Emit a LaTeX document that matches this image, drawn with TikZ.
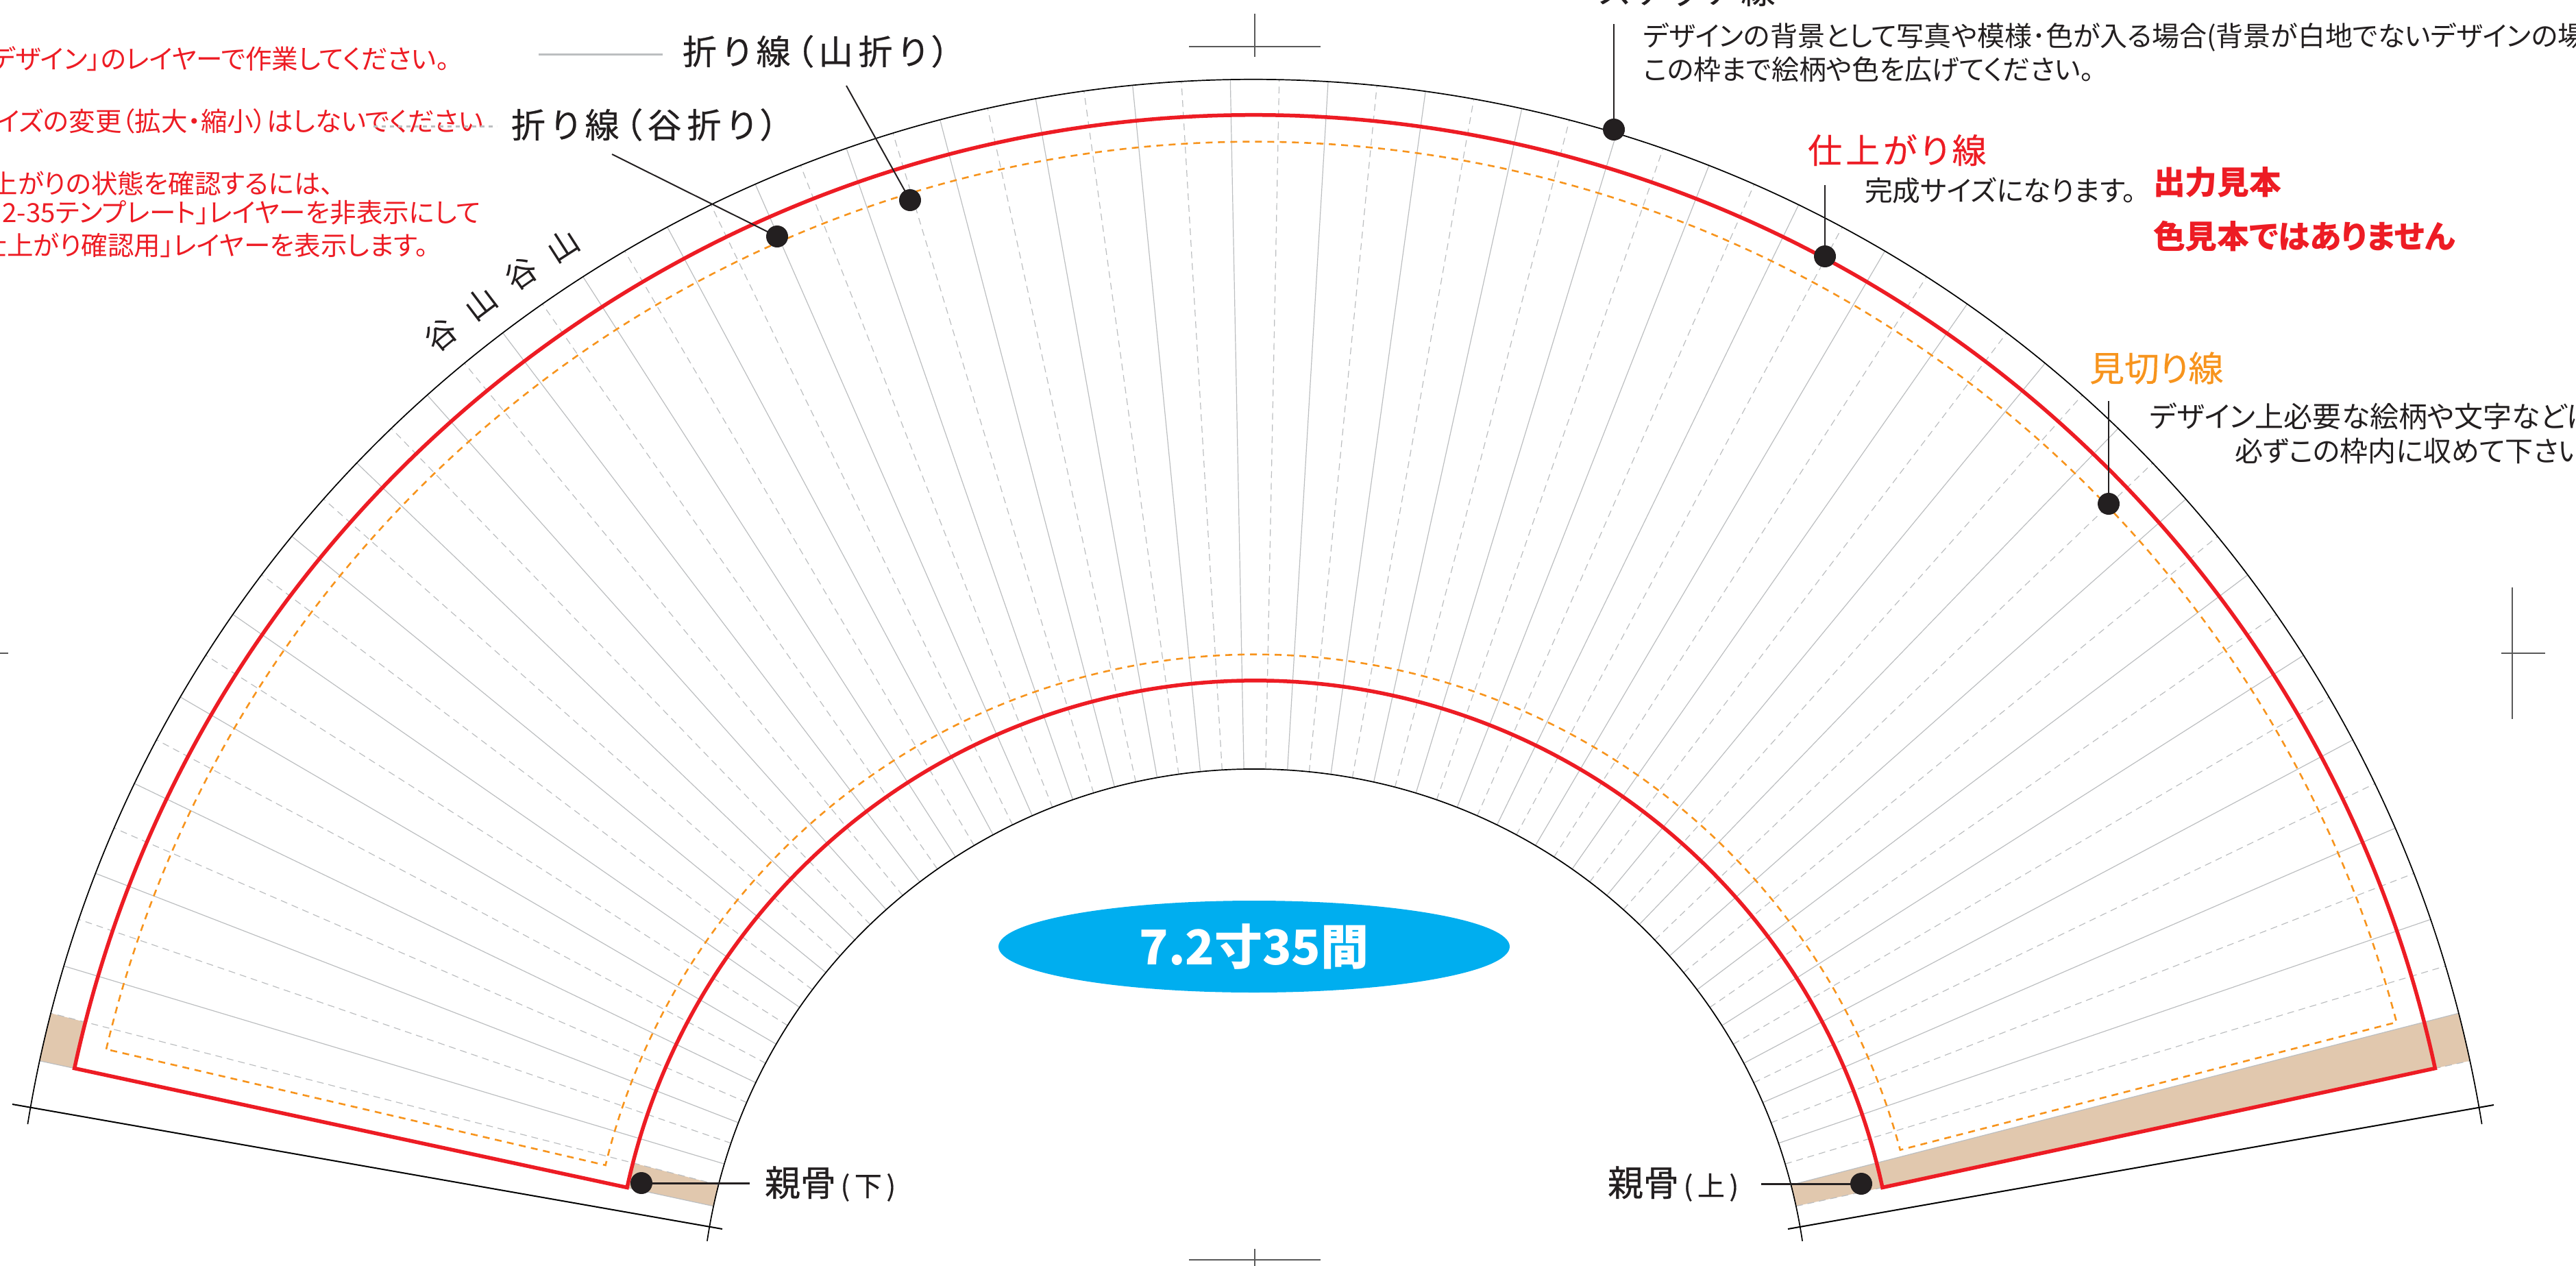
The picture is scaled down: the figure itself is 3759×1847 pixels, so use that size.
\documentclass[tikz,border=0pt]{standalone}
\usepackage{fontspec}
\usetikzlibrary{shapes.geometric}
\setmainfont[RawFeature=+palt]{Noto Sans CJK JP}
\definecolor{inkk}{HTML}{231F20}
\definecolor{fanred}{HTML}{ED1C24}
\definecolor{fanorange}{HTML}{F7941D}
\definecolor{foldgray}{HTML}{BCBEC0}
\definecolor{boneb}{HTML}{E1C8AE}
\definecolor{ovalblue}{HTML}{00AEEF}
\newcommand{\fs}[1]{\fontsize{#1pt}{#1pt}\selectfont}
\tikzset{
  every node/.style={inner sep=0pt,outer sep=0pt},
  foldsolid/.style={draw=foldgray,line width=1.2pt},
  folddash/.style={draw=foldgray,line width=1.2pt,dash pattern=on 10pt off 7pt},
  trimred/.style={draw=fanred,line width=5.5pt,miter limit=10},
  safeor/.style={draw=fanorange,line width=2.6pt,dash pattern=on 10pt off 8pt},
  blackarc/.style={draw=black,line width=1.7pt},
  cropm/.style={draw=black!65,line width=1.8pt},
  leader/.style={draw=inkk,line width=2pt},
  dotm/.style={circle,fill=inkk,minimum size=32pt},
  redtxt/.style={text=fanred,font=\fs{38.5}},
  darktxt/.style={text=inkk,font=\fs{40}},
  foldlbl/.style={text=inkk,font=\fs{50}\addfontfeature{LetterSpace=16,FakeBold=0.5}},
  boldred/.style={text=fanred,font=\fs{46.8}\bfseries},
  fanchar/.style={text=inkk,font=\fs{46}}
}
\begin{document}
\begin{tikzpicture}[x=1pt,y=1pt]
\useasboundingbox (0,0) rectangle (3759,-1847);
\clip (0,0) rectangle (3759,-1847);
% fan, centred on its hub
\begin{scope}[shift={(1831,-1930)}]
  \fill[boneb] (12.17:808) arc[start angle=12.17,end angle=14.42,radius=808]
     -- (14.42:1814) arc[start angle=14.42,end angle=12.17,radius=1814] -- cycle;
  \fill[boneb] (165.58:808) arc[start angle=165.58,end angle=167.83,radius=808]
     -- (167.83:937) arc[start angle=167.83,end angle=165.58,radius=937] -- cycle;
  \fill[boneb] (165.58:1762) arc[start angle=165.58,end angle=167.83,radius=1762]
     -- (167.83:1814) arc[start angle=167.83,end angle=165.58,radius=1814] -- cycle;
  \foreach \k [evaluate=\k as \a using 90-(-1.128+4.512*\k)] in {-17,...,17}
    \draw[foldsolid] (\a:808) -- (\a:1814);
  \foreach \k [evaluate=\k as \a using 90-(1.128+4.512*\k)] in {-17,...,17}
    \draw[folddash] (\a:808) -- (\a:1814);
  \draw[blackarc] (170.8:1814) arc[start angle=170.8,end angle=9.2,radius=1814];
  \draw[blackarc] (171.5:808) arc[start angle=171.5,end angle=8.5,radius=808];
  \draw[safeor] (166.6:1723) arc[start angle=166.6,end angle=14.75,radius=1723]
     -- (15:975) arc[start angle=15,end angle=166.35,radius=975] -- cycle;
  \draw[trimred] (167.83:1762) arc[start angle=167.83,end angle=12.17,radius=1762]
     -- (12.17:937) arc[start angle=12.17,end angle=167.83,radius=937] -- cycle;
  \node[fanchar,rotate=39.48] (c1) at (129.48:1868) {谷};
  \node[fanchar,rotate=37.22] (c2) at (127.22:1868) {山};
  \node[fanchar,rotate=34.97] (c3) at (124.97:1868) {谷};
  \node[fanchar,rotate=32.71] (c4) at (122.71:1868) {山};
\end{scope}
% base lines
\draw[blackarc,line width=2pt] (18,-1611) -- (1054,-1793);
\draw[blackarc,line width=2pt] (3639,-1612) -- (2609,-1793);
% crop marks
\draw[cropm] (1831,-20) -- (1831,-83);
\draw[cropm] (1735,-68) -- (1927,-68);
\draw[cropm] (3666,-857) -- (3666,-1049);
\draw[cropm] (3650,-953) -- (3714,-953);
\draw[cropm] (1831,-1822) -- (1831,-1847);
\draw[cropm] (1735,-1838) -- (1927,-1838);
\draw[cropm] (0,-953) -- (12,-953);
% oval
\node[ellipse,fill=ovalblue,minimum width=746pt,minimum height=134pt,text=white,font=\fs{70}\bfseries] (oval) at (1830,-1381) {7.2寸35間};
% left notes
\node[redtxt,anchor=east] (n1) at (656,-86) {「デザイン」のレイヤーで作業してください。};
\node[redtxt,anchor=east] (n2) at (705,-177) {サイズの変更（拡大・縮小）はしないでください};
\node[redtxt,anchor=east] (n3) at (487,-268) {仕上がりの状態を確認するには、};
\node[redtxt,anchor=east] (n4) at (701,-310) {「7.2-35テンプレート」レイヤーを非表示にして};
\node[redtxt,anchor=east] (n5) at (625,-358) {「仕上がり確認用」レイヤーを表示します。};
% fold labels
\node[foldlbl,anchor=west] (yama) at (996,-75) {折り線（山折り）};
\node[foldlbl,anchor=west] (tani) at (746,-182) {折り線（谷折り）};
\coordinate (yamaline) at (967,-79);
\coordinate (yamalinel) at (786,-79);
\coordinate (taniline) at (725,-184);
\coordinate (tanilinel) at (545,-184);
\draw[draw=foldgray,line width=3pt] (yamalinel) -- (yamaline);
\draw[draw=foldgray,line width=3pt,dash pattern=on 6pt off 6pt] (tanilinel) -- (taniline);
\node[dotm] (d1) at (1328,-292) {};
\node[dotm] (d2) at (1134,-345) {};
\coordinate (e1) at (1235,-125);
\coordinate (e2) at (893,-225);
\draw[leader] (e1) -- (d1.center);
\draw[leader] (e2) -- (d2.center);
% right labels
\node[foldlbl,anchor=west] (st) at (2333,14) {ステッチ線};
\node[darktxt,anchor=west] (st1) at (2398,-54) {デザインの背景として写真や模様･色が入る場合(背景が白地でないデザインの場};
\node[darktxt,anchor=west] (st2) at (2398,-101) {この枠まで絵柄や色を広げてください。};
\node[dotm] (d3) at (2355,-189) {};
\coordinate (e3) at (2355,-35);
\draw[leader] (e3) -- (d3.center);
\node[text=fanred,font=\fs{50}\addfontfeature{LetterSpace=10,FakeBold=0.3},anchor=west] (fin) at (2638,-219) {仕上がり線};
\node[darktxt,font=\fs{40.8},anchor=west] (fin1) at (2721,-278) {完成サイズになります。};
\node[dotm] (d4) at (2663,-374) {};
\coordinate (e4) at (2663,-270);
\draw[leader] (e4) -- (d4.center);
\node[boldred,anchor=west] (b1) at (3142,-266) {出力見本};
\node[boldred,anchor=west] (b2) at (3142,-345) {色見本ではありません};
\node[text=fanorange,font=\fs{51}\addfontfeature{FakeBold=0.3},anchor=west] (mk) at (3049,-537) {見切り線};
\node[darktxt,font=\fs{42},anchor=west] (mk1) at (3137,-607) {デザイン上必要な絵柄や文字などは};
\node[darktxt,font=\fs{41},anchor=west] (mk2) at (3261,-658) {必ずこの枠内に収めて下さい。};
\node[dotm] (d5) at (3077,-735) {};
\coordinate (e5) at (3077,-585);
\draw[leader] (e5) -- (d5.center);
% ribs
\node[text=inkk,font=\fs{52}\addfontfeature{FakeBold=0.5},anchor=west] (oya1) at (1116,-1727) {親骨{\fs{40}\,(\,下\,)}};
\node[text=inkk,font=\fs{52}\addfontfeature{FakeBold=0.5},anchor=west] (oya2) at (2346,-1727) {親骨{\fs{40}\,(\,上\,)}};
\node[dotm] (d6) at (936,-1726) {};
\node[dotm] (d7) at (2716,-1727) {};
\coordinate (e6) at (1094,-1726);
\coordinate (e7) at (2570,-1727);
\draw[leader,line width=3pt] (d6.center) -- (e6);
\draw[leader,line width=3pt] (d7.center) -- (e7);
\end{tikzpicture}
\end{document}
